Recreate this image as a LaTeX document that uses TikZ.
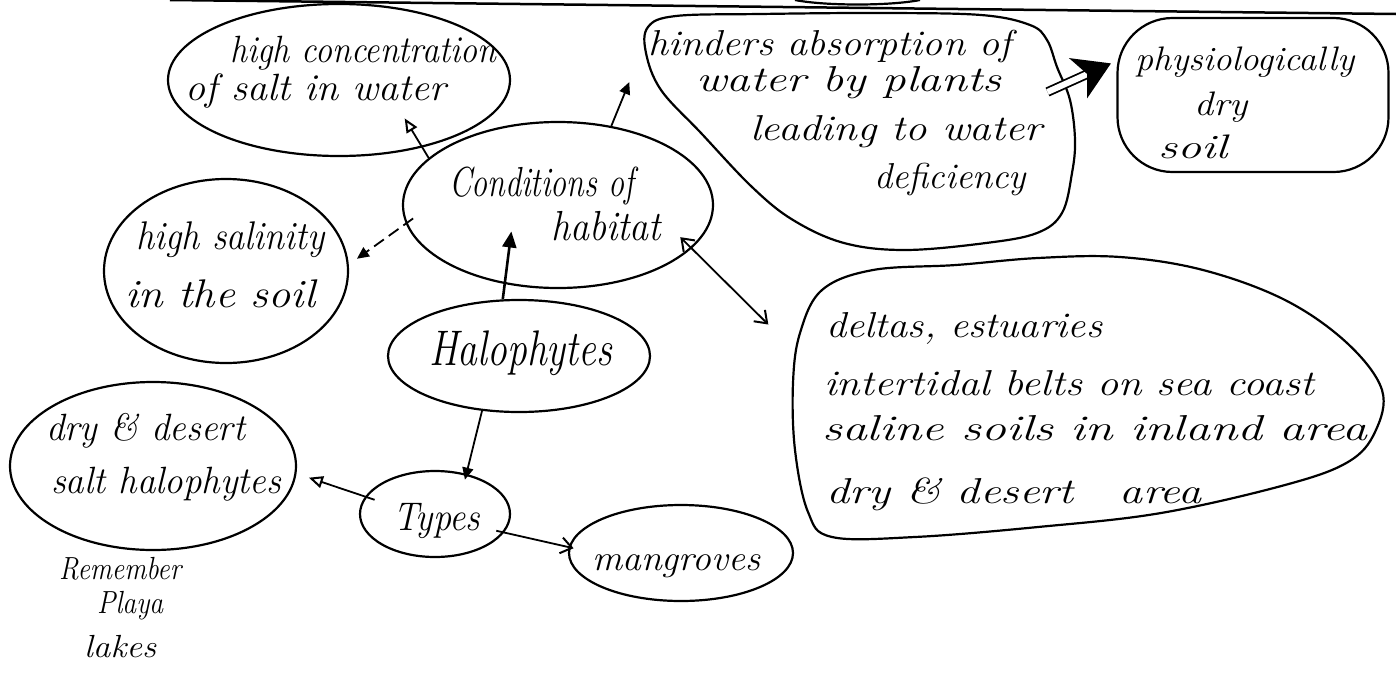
\documentclass[tikz,border=0pt]{standalone}
\usepackage{graphicx}
\usetikzlibrary{shapes.geometric,arrows.meta}
% handwritten-style line: italic at a given size, stretched to a given width
\newcommand\hw[3]{\resizebox{#1pt}{\height}{\fontsize{#2pt}{#2pt}\selectfont\itshape #3}}
\begin{document}
\begin{tikzpicture}[x=1pt,y=-1pt,
  bubble/.style={draw, ellipse, line width=2.2pt, inner sep=0pt},
  blob/.style={draw, line width=2.2pt},
  lbl/.style={anchor=base west, inner sep=0pt},
  conn/.style={line width=1.8pt, -{Triangle[length=12pt,width=11pt]}},
  barb/.style={-{Straight Barb[length=11pt,width=16pt,line width=2pt]}},
  openhead/.style={-{Triangle[open,length=14pt,width=12pt,line width=2pt]}}]
\useasboundingbox (0,0) rectangle (1396,672);

% ruled line across the top of the page and a cut-off curve above it
\draw[line width=2.5pt] (170,0) -- (1396,14);
\draw[line width=2.2pt] (795,0) .. controls (825,6) and (890,6) .. (920,0);

% ---- bubbles ----
\node[bubble, minimum width=342pt, minimum height=152pt] (conc) at (339,80) {};
\node[bubble, minimum width=310pt, minimum height=166pt] (cond) at (558,205) {};
\node[bubble, minimum width=244pt, minimum height=184pt] (sal) at (226,271) {};
\node[bubble, minimum width=262pt, minimum height=112pt] (halo) at (519,356) {};
\node[bubble, minimum width=150pt, minimum height=86pt] (types) at (435,514) {};
\node[bubble, minimum width=286pt, minimum height=168pt] (dry) at (153,466) {};
\node[bubble, minimum width=224pt, minimum height=96pt] (mang) at (681,553) {};
\node[draw, line width=2.2pt, rounded corners=55pt, inner sep=0pt,
      minimum width=271pt, minimum height=154pt] (phys) at (1253,95) {};

% free-form bubbles
\draw[blob] plot[smooth cycle, tension=0.6] coordinates {
  (648,27) (676,16) (760,14) (880,13) (981,15) (1030,25) (1047,40)
  (1057,67) (1070,100) (1075,140) (1072,173) (1062,213) (1037,233)
  (986,243) (905,250) (844,243) (793,220) (752,187) (701,133)
  (661,90) (646,53)};
\draw[blob] plot[smooth cycle, tension=0.6] coordinates {
  (822,290) (873,270) (956,265) (1038,258) (1120,257) (1203,270)
  (1285,300) (1347,343) (1382,390) (1375,432) (1348,462) (1285,485)
  (1161,513) (1038,527) (915,537) (832,537) (808,512) (795,450)
  (793,383) (800,333)};
% attachment points on the free-form bubbles
\coordinate (hindSW) at (644,46);
\coordinate (hindE) at (1063,85);
\coordinate (deltaW) at (796,352);

% ---- texts ----
\node[lbl] (conc1) at (230,62) {\hw{266}{38}{high concentration}};
\node[lbl] (conc2) at (185,100) {\hw{261}{38}{of salt in water}};
\node[lbl] (cond1) at (449,196) {\hw{185}{42}{Conditions of}};
\node[lbl] (cond2) at (551,240) {\hw{110}{42}{habitat}};
\node[lbl] (sal1) at (136,249) {\hw{188}{40}{high salinity}};
\node[lbl] (sal2) at (125,307) {\hw{190}{40}{in the soil}};
\node[lbl] (halo1) at (429,365) {\hw{183}{50}{Halophytes}};
\node[lbl] (types1) at (393,530) {\hw{87}{40}{Types}};
\node[lbl] (dry1) at (46,440) {\hw{199}{38}{dry \& desert}};
\node[lbl] (dry2) at (51,493) {\hw{230}{38}{salt halophytes}};
\node[lbl] (rem1) at (59,579) {\hw{122}{32}{Remember}};
\node[lbl] (rem2) at (97,613) {\hw{66}{32}{Playa}};
\node[lbl] (rem3) at (84,657) {\hw{72}{32}{lakes}};
\node[lbl] (mang1) at (592,570) {\hw{168}{36}{mangroves}};
\node[lbl] (hind1) at (648,55) {\hw{363}{36}{hinders absorption of}};
\node[lbl] (hind2) at (696,91) {\hw{305}{36}{water by plants}};
\node[lbl] (hind3) at (750,140) {\hw{292}{36}{leading to water}};
\node[lbl] (hind4) at (874,188) {\hw{152}{36}{deficiency}};
\node[lbl] (phys1) at (1135,70) {\hw{219}{34}{physiologically}};
\node[lbl] (phys2) at (1194,115) {\hw{53}{34}{dry}};
\node[lbl] (phys3) at (1158,158) {\hw{69}{34}{soil}};
\node[lbl] (del1) at (826,337) {\hw{276}{36}{deltas, estuaries}};
\node[lbl] (del2) at (824,395) {\hw{490}{36}{intertidal belts on sea coast}};
\node[lbl] (del3) at (822,440) {\hw{545}{36}{saline soils in inland area}};
\node[lbl] (del4) at (826,503) {\hw{375}{36}{dry \& desert\quad area}};

% ---- connectors ----
\draw[conn, openhead, shorten >=-34pt] (cond.160) -- (conc.-39);
\draw[conn, dash pattern=on 12pt off 6pt, shorten <=-9pt, shorten >=10pt] (cond.187) -- (sal.3);
\draw[conn, shorten >=39pt] (cond.56) -- (hindSW);
\draw[conn, line width=2.6pt, -{Triangle[length=16pt,width=14pt]}, shorten >=-53pt] (halo.106) -- (cond.236);
\draw[conn, shorten >=-6pt] (halo.236) -- (types.52);
\draw[conn, openhead, shorten <=-10pt, shorten >=13pt] (types.166) -- (dry.-3);
\draw[conn, barb, shorten <=-8pt, shorten >=-5pt] (types.-15) -- (mang.177);
\draw[line width=1.8pt, {Straight Barb[length=11pt,width=16pt,line width=2pt]}-{Straight Barb[length=11pt,width=16pt,line width=2pt]},
      shorten <=-16pt, shorten >=39pt] (cond.-18.5) -- (deltaW);
\draw[line width=1.8pt, double, double distance=6pt,
      -{Stealth[length=36pt,width=44pt,inset=10pt]},
      shorten <=-17pt, shorten >=6pt] (hindE) -- (phys.166);
\end{tikzpicture}
\end{document}
